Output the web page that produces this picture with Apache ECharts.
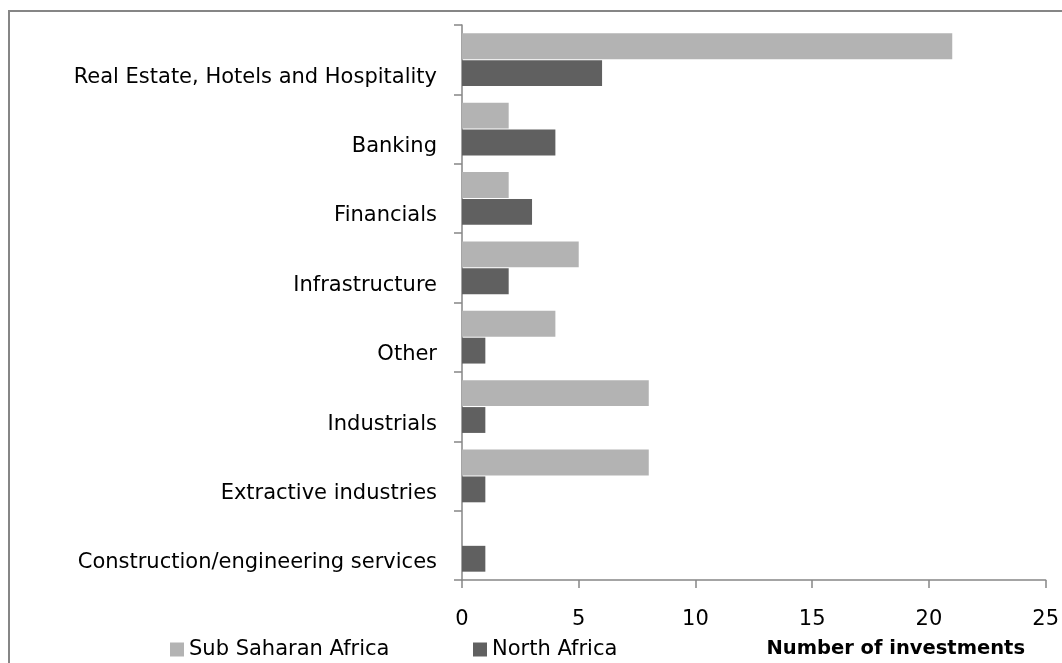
<!DOCTYPE html>
<html>
<head>
<meta charset="utf-8">
<style>
  html, body { margin: 0; padding: 0; background: #ffffff; }
  #chart { width: 1062px; height: 663px; }
</style>
<script src="https://cdn.jsdelivr.net/npm/echarts@6/dist/echarts.min.js"></script>
</head>
<body>
<div id="chart"></div>
<script>
// Sectors, listed top to bottom
const sectors = [
  'Real Estate, Hotels and Hospitality',
  'Banking',
  'Financials',
  'Infrastructure',
  'Other',
  'Industrials',
  'Extractive industries',
  'Construction/engineering services'
];
// Number of investments per sector
const subSaharanAfrica = [21, 2, 2, 5, 4, 8, 8, 0];
const northAfrica = [6, 4, 3, 2, 1, 1, 1, 1];
const seriesNames = ['Sub Saharan Africa', 'North Africa'];
const axisTitle = 'Number of investments';

const FONT = 'DejaVu Sans';
const AXIS_GREY = '#868686';

const chart = echarts.init(document.getElementById('chart'), null, { renderer: 'canvas' });

chart.setOption({
  animation: false,
  backgroundColor: '#ffffff',
  textStyle: { fontFamily: FONT },
  grid: { left: 462, right: 16, top: 25, bottom: 83, containLabel: false },
  xAxis: {
    type: 'value',
    min: 0,
    max: 25,
    interval: 5,
    splitLine: { show: false },
    axisLine: { show: true, lineStyle: { color: AXIS_GREY, width: 1.5 } },
    axisTick: { show: true, length: 8, lineStyle: { color: AXIS_GREY, width: 1.5 } },
    axisLabel: { color: '#000000', fontFamily: FONT, fontSize: 21, margin: 29 }
  },
  yAxis: {
    type: 'category',
    inverse: true,
    data: sectors,
    axisLine: { show: true, lineStyle: { color: AXIS_GREY, width: 1.5 } },
    axisTick: { show: true, length: 8, lineStyle: { color: AXIS_GREY, width: 1.5 } },
    axisLabel: {
      color: '#000000', fontFamily: FONT, fontSize: 21, margin: 25,
      interval: 0,
      hideOverlap: false,
      showMinLabel: true,
      showMaxLabel: true,
      lineHeight: 35,
      // an empty first line drops each sector name below the band centre
      formatter: (name) => '\n' + name
    }
  },
  legend: [
    {
      data: [seriesNames[0]],
      left: 165, top: 634,
      icon: 'rect', itemWidth: 14, itemHeight: 14, itemGap: 5,
      textStyle: { color: '#000000', fontFamily: FONT, fontSize: 21 }
    },
    {
      data: [seriesNames[1]],
      left: 468, top: 634,
      icon: 'rect', itemWidth: 14, itemHeight: 14, itemGap: 5,
      textStyle: { color: '#000000', fontFamily: FONT, fontSize: 21 }
    }
  ],
  graphic: [
    {
      type: 'rect',
      shape: { x: 9, y: 11, width: 1100, height: 720 },
      style: { fill: 'none', stroke: AXIS_GREY, lineWidth: 2 },
      silent: true
    },
    {
      type: 'text',
      right: 37,
      top: 639,
      style: {
        text: axisTitle,
        fill: '#000000',
        font: 'bold 19.5px "DejaVu Sans"'
      }
    }
  ],
  series: [
    {
      name: seriesNames[0],
      type: 'bar',
      data: subSaharanAfrica,
      barCategoryGap: '24%',
      barGap: '4%',
      itemStyle: { color: '#b3b3b3' }
    },
    {
      name: seriesNames[1],
      type: 'bar',
      data: northAfrica,
      barCategoryGap: '24%',
      barGap: '4%',
      itemStyle: { color: '#606060' }
    }
  ]
});
</script>
</body>
</html>
